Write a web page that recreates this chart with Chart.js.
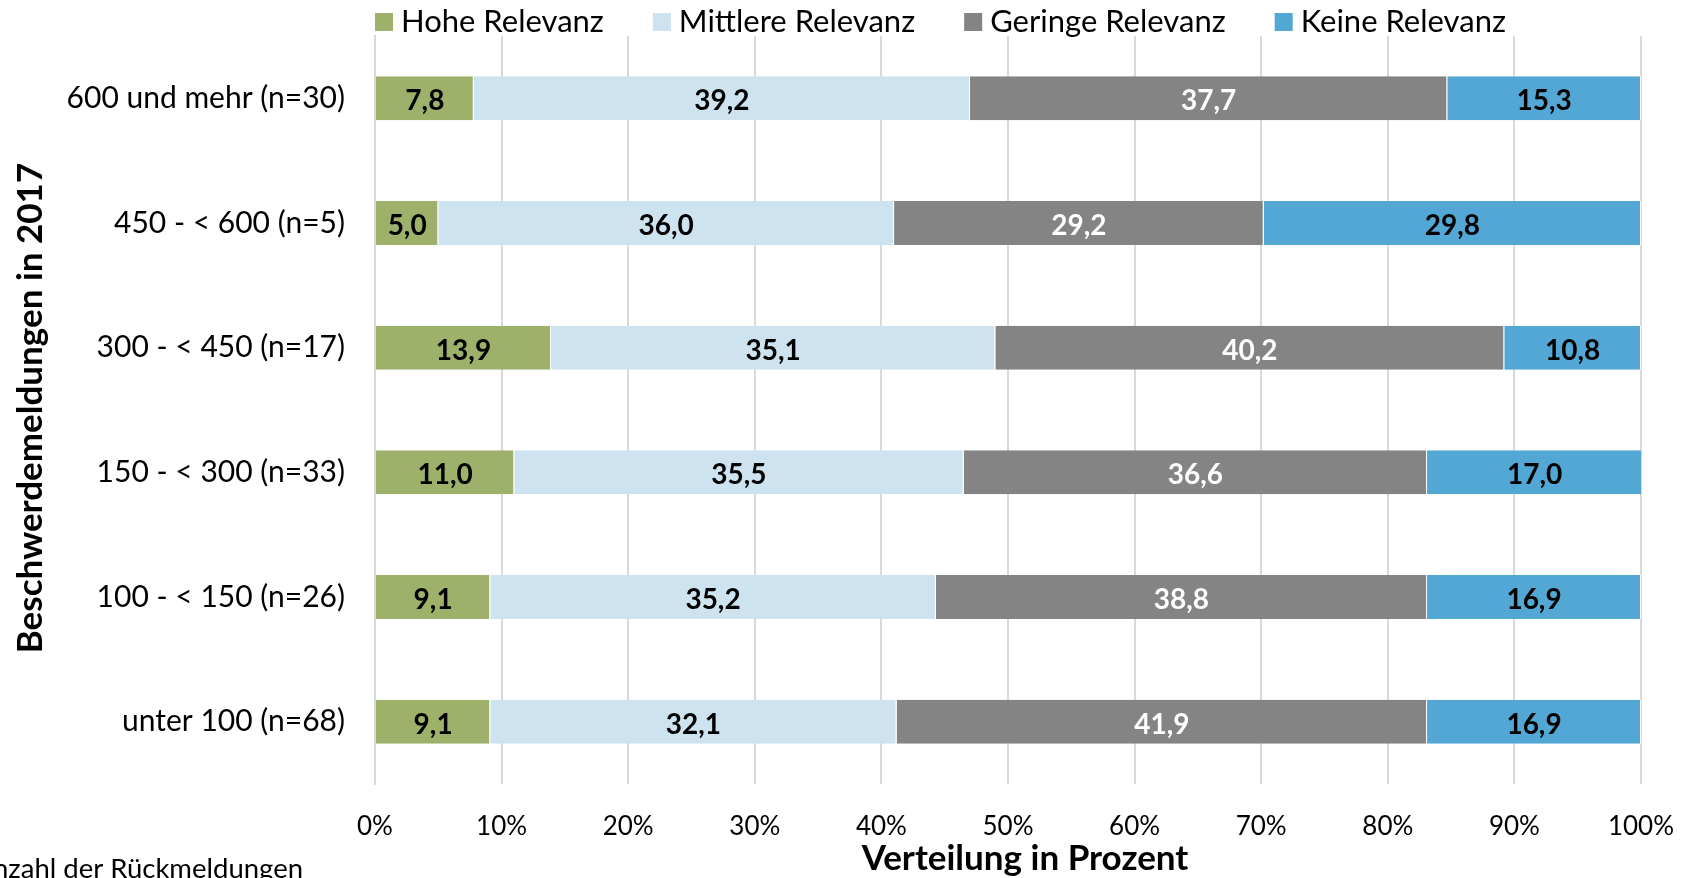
<!DOCTYPE html>
<html><head><meta charset="utf-8">
<script src="https://cdn.jsdelivr.net/npm/chart.js@4"></script>
<style>html,body{margin:0;padding:0;background:#fff}#wrap{width:1684px;height:878px}</style>
</head><body><div id="wrap"><canvas id="c" width="1684" height="878"></canvas></div>
<script>
const categories = ["600 und mehr (n=30)", "450 - < 600 (n=5)", "300 - < 450 (n=17)", "150 - < 300 (n=33)", "100 - < 150 (n=26)", "unter 100 (n=68)"];
const seriesNames = ["Hohe Relevanz", "Mittlere Relevanz", "Geringe Relevanz", "Keine Relevanz"];
const hohe = [7.8, 5.0, 13.9, 11.0, 9.1, 9.1];
const mittlere = [39.2, 36.0, 35.1, 35.5, 35.2, 32.1];
const geringe = [37.7, 29.2, 40.2, 36.6, 38.8, 41.9];
const keine = [15.3, 29.8, 10.8, 17.0, 16.9, 16.9];
const xTicks = [0, 10, 20, 30, 40, 50, 60, 70, 80, 90, 100];
const xTitle = "Verteilung in Prozent";
const yTitle = "Beschwerdemeldungen in 2017";
const footnote = "Anzahl der Rückmeldungen";

const colors = ["#9DB16A", "#CEE3F0", "#848484", "#52A7D4"];
const labelColors = ["#000", "#000", "#fff", "#000"];
const FONT = "Lato, 'Open Sans', sans-serif";

const dataLabels = {
  id: 'dataLabels',
  afterDatasetsDraw(chart) {
    const ctx = chart.ctx;
    ctx.save();
    ctx.font = "bold 28px " + FONT;
    ctx.textAlign = "center";
    ctx.textBaseline = "middle";
    chart.data.datasets.forEach((ds, di) => {
      const meta = chart.getDatasetMeta(di);
      meta.data.forEach((el, i) => {
        const p = el.getProps(['x', 'y', 'base'], true);
        ctx.fillStyle = labelColors[di];
        ctx.fillText(ds.data[i].toFixed(1).replace('.', ','), (p.x + p.base) / 2, p.y + 3);
      });
    });
    ctx.restore();
  }
};

const extras = {
  id: 'extras',
  afterDraw(chart) {
    const ctx = chart.ctx;
    const area = chart.chartArea;
    ctx.save();
    ctx.fillStyle = "#000";
    // legend
    ctx.font = "31px " + FONT;
    ctx.textBaseline = "middle";
    ctx.textAlign = "left";
    let x = area.left;
    chart.data.datasets.forEach((ds) => {
      ctx.fillStyle = ds.backgroundColor;
      ctx.fillRect(x, 13, 18, 18);
      ctx.fillStyle = "#000";
      ctx.fillText(ds.label, x + 26, 22);
      x += 26 + ctx.measureText(ds.label).width + 49;
    });
    // footnote
    ctx.font = "27.5px " + FONT;
    ctx.textAlign = "right";
    ctx.fillText(footnote, 303, 869);
    // x title
    ctx.font = "bold 35px " + FONT;
    ctx.textAlign = "center";
    ctx.fillText(xTitle, 1025, 859);
    // y title
    ctx.font = "bold 35px " + FONT;
    ctx.translate(31, 408);
    ctx.rotate(-Math.PI / 2);
    ctx.fillText(yTitle, 0, 0);
    ctx.restore();
  }
};

const datasets = [hohe, mittlere, geringe, keine].map((d, i) => ({
  label: seriesNames[i],
  data: d,
  backgroundColor: colors[i],
  borderColor: "#ffffff",
  borderWidth: {left: 0, right: 1, top: 0, bottom: 0},
  borderSkipped: false,
  barPercentage: 1,
  categoryPercentage: 0.353
}));

new Chart(document.getElementById('c'), {
  type: 'bar',
  data: { labels: categories, datasets },
  plugins: [dataLabels, extras],
  options: {
    indexAxis: 'y',
    responsive: false,
    animation: false,
    layout: { padding: { left: 0, right: 43, top: 36, bottom: 0 } },
    plugins: {
      tooltip: { enabled: false },
      legend: { display: false }
    },
    scales: {
      x: {
        stacked: true,
        min: 0, max: 100,
        afterBuildTicks(s) { s.ticks = xTicks.map(v => ({ value: v })); },
        ticks: {
          callback: v => v + "%",
          font: { family: FONT, size: 26 },
          color: "#000",
          padding: 27,
          maxRotation: 0
        },
        grid: { color: "#d9d9d9", lineWidth: 2, drawTicks: false },
        border: { display: false },
        afterFit(s) { s.height = 94; s.paddingLeft = 0; s.paddingRight = 0; }
      },
      y: {
        stacked: true,
        ticks: { font: { family: FONT, size: 30 }, color: "#000", padding: 30 },
        grid: { display: false, drawTicks: false },
        border: { display: true, color: "#d9d9d9", width: 2 },
        afterFit(s) { s.width = 375; s.paddingTop = 0; s.paddingBottom = 0; }
      }
    }
  }
});
</script></body></html>
